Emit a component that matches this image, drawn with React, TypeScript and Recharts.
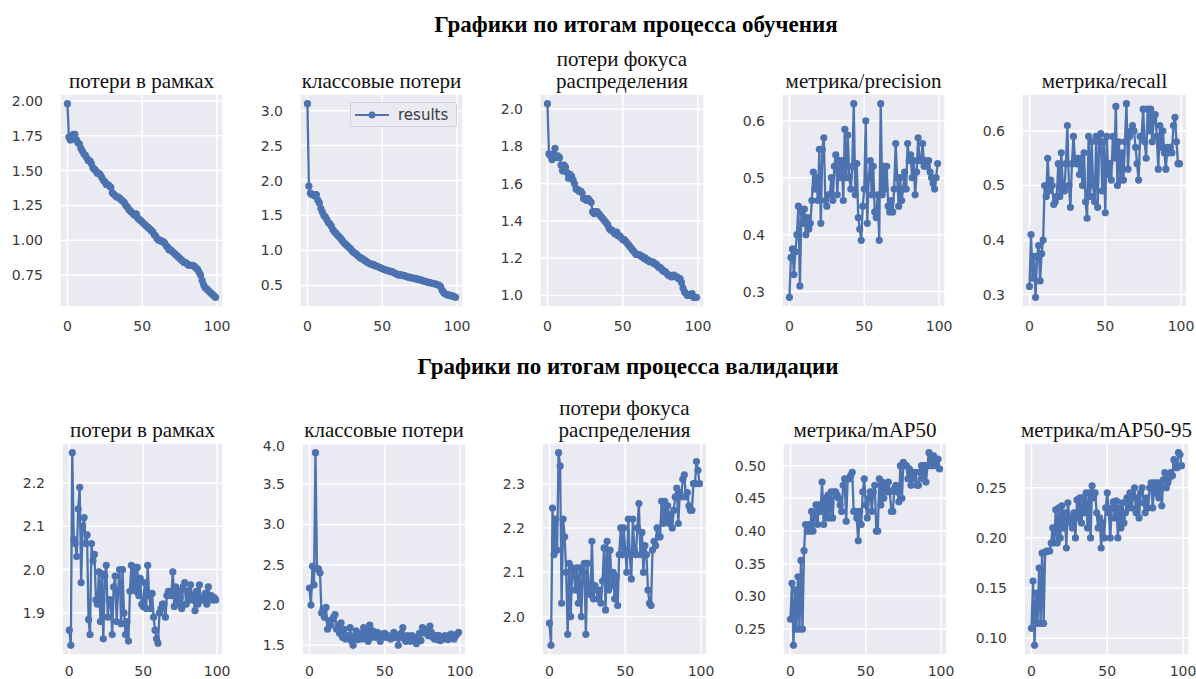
import React from 'react';
import { LineChart, Line, XAxis, YAxis, CartesianGrid, Legend } from 'recharts';

const epochs = Array.from({ length: 100 }, (_, i) => i);
const xTicks = [0, 50, 100];

const trainBoxLoss = [
  1.98, 1.74, 1.72, 1.73, 1.76, 1.76, 1.72, 1.70, 1.69, 1.66,
  1.64, 1.62, 1.61, 1.59, 1.57, 1.57, 1.55, 1.52, 1.51, 1.50,
  1.48, 1.48, 1.47, 1.45, 1.43, 1.42, 1.40, 1.40, 1.39, 1.38,
  1.34, 1.33, 1.32, 1.31, 1.31, 1.30, 1.29, 1.28, 1.27, 1.25,
  1.24, 1.22, 1.21, 1.20, 1.19, 1.18, 1.19, 1.16, 1.15, 1.14,
  1.13, 1.12, 1.11, 1.10, 1.09, 1.08, 1.07, 1.06, 1.04, 1.03,
  1.01, 1.00, 1.00, 0.99, 0.99, 0.98, 0.96, 0.95, 0.93, 0.93,
  0.92, 0.91, 0.90, 0.89, 0.88, 0.87, 0.86, 0.85, 0.84, 0.84,
  0.83, 0.82, 0.82, 0.82, 0.82, 0.81, 0.80, 0.79, 0.77, 0.75,
  0.71, 0.68, 0.66, 0.65, 0.64, 0.63, 0.62, 0.61, 0.60, 0.59,
];

const trainClsLoss = [
  3.10, 1.92, 1.82, 1.80, 1.80, 1.78, 1.80, 1.72, 1.68, 1.60,
  1.55, 1.50, 1.48, 1.44, 1.40, 1.38, 1.35, 1.30, 1.27, 1.25,
  1.22, 1.20, 1.18, 1.15, 1.12, 1.10, 1.08, 1.06, 1.04, 1.02,
  0.99, 0.97, 0.96, 0.94, 0.92, 0.90, 0.89, 0.88, 0.86, 0.85,
  0.83, 0.82, 0.81, 0.80, 0.80, 0.78, 0.78, 0.77, 0.76, 0.75,
  0.74, 0.73, 0.72, 0.72, 0.71, 0.70, 0.70, 0.69, 0.68, 0.67,
  0.66, 0.65, 0.65, 0.65, 0.64, 0.64, 0.63, 0.62, 0.62, 0.61,
  0.61, 0.60, 0.60, 0.59, 0.59, 0.58, 0.58, 0.57, 0.56, 0.56,
  0.55, 0.54, 0.54, 0.53, 0.53, 0.52, 0.52, 0.51, 0.50, 0.48,
  0.43, 0.40, 0.38, 0.37, 0.36, 0.36, 0.35, 0.35, 0.34, 0.33,
];

const trainDflLoss = [
  2.03, 1.76, 1.75, 1.73, 1.76, 1.79, 1.74, 1.75, 1.74, 1.70,
  1.67, 1.70, 1.69, 1.66, 1.63, 1.65, 1.64, 1.62, 1.60, 1.57,
  1.57, 1.56, 1.56, 1.55, 1.52, 1.52, 1.51, 1.52, 1.51, 1.50,
  1.45, 1.44, 1.45, 1.45, 1.44, 1.43, 1.42, 1.41, 1.40, 1.39,
  1.38, 1.36, 1.35, 1.35, 1.34, 1.33, 1.34, 1.32, 1.32, 1.31,
  1.30, 1.30, 1.29, 1.28, 1.27, 1.26, 1.25, 1.24, 1.23, 1.22,
  1.22, 1.22, 1.21, 1.21, 1.20, 1.20, 1.19, 1.19, 1.18, 1.18,
  1.18, 1.17, 1.17, 1.16, 1.15, 1.15, 1.14, 1.13, 1.13, 1.12,
  1.11, 1.11, 1.10, 1.10, 1.11, 1.10, 1.10, 1.09, 1.09, 1.07,
  1.04, 1.02, 1.01, 1.00, 1.00, 1.00, 1.01, 0.99, 0.99, 0.99,
];

const trainPrecision = [
  0.29, 0.36, 0.375, 0.33, 0.37, 0.40, 0.45, 0.31, 0.44, 0.42,
  0.445, 0.40, 0.43, 0.41, 0.42, 0.46, 0.51, 0.48, 0.50, 0.46,
  0.55, 0.42, 0.55, 0.57, 0.46, 0.45, 0.47, 0.47, 0.50, 0.46,
  0.52, 0.54, 0.47, 0.53, 0.50, 0.53, 0.46, 0.585, 0.50, 0.575,
  0.50, 0.48, 0.52, 0.63, 0.47, 0.525, 0.43, 0.41, 0.39, 0.45,
  0.48, 0.60, 0.42, 0.50, 0.53, 0.47, 0.52, 0.44, 0.43, 0.47,
  0.39, 0.63, 0.47, 0.52, 0.48, 0.52, 0.45, 0.44, 0.46, 0.44,
  0.48, 0.56, 0.50, 0.45, 0.50, 0.46, 0.48, 0.51, 0.48, 0.56,
  0.53, 0.54, 0.50, 0.53, 0.47, 0.51, 0.57, 0.53, 0.53, 0.56,
  0.52, 0.53, 0.52, 0.53, 0.51, 0.50, 0.49, 0.48, 0.50, 0.525,
];

const trainRecall = [
  0.315, 0.41, 0.33, 0.37, 0.295, 0.37, 0.39, 0.325, 0.375, 0.40,
  0.50, 0.48, 0.55, 0.49, 0.51, 0.50, 0.465, 0.47, 0.48, 0.54,
  0.48, 0.56, 0.50, 0.49, 0.54, 0.61, 0.50, 0.46, 0.54, 0.59,
  0.55, 0.54, 0.55, 0.52, 0.55, 0.50, 0.56, 0.47, 0.44, 0.59,
  0.48, 0.58, 0.50, 0.47, 0.59, 0.46, 0.58, 0.595, 0.49, 0.58,
  0.45, 0.59, 0.52, 0.54, 0.51, 0.59, 0.55, 0.645, 0.50, 0.58,
  0.51, 0.56, 0.51, 0.58, 0.65, 0.53, 0.59, 0.60, 0.61, 0.60,
  0.57, 0.54, 0.51, 0.59, 0.59, 0.64, 0.58, 0.55, 0.64, 0.60,
  0.64, 0.58, 0.62, 0.63, 0.59, 0.53, 0.61, 0.57, 0.60, 0.56,
  0.53, 0.57, 0.56, 0.57, 0.56, 0.61, 0.625, 0.58, 0.54, 0.54,
];

const valBoxLoss = [
  1.86, 1.825, 2.27, 2.07, 2.06, 2.03, 2.14, 2.19, 1.97, 2.10,
  2.12, 2.06, 2.08, 1.885, 1.85, 2.06, 2.02, 2.035, 1.93, 1.92,
  1.995, 1.88, 1.99, 1.84, 1.985, 2.01, 1.89, 1.93, 1.93, 1.85,
  1.96, 1.985, 1.88, 1.95, 2.00, 1.875, 2.00, 1.90, 1.85, 1.88,
  1.835, 1.95, 2.01, 1.96, 2.005, 1.95, 2.005, 1.94, 1.98, 1.92,
  1.915, 1.97, 1.91, 2.01, 1.94, 1.91, 1.945, 1.89, 1.86, 1.84,
  1.83, 1.90, 1.91, 1.92, 1.92, 1.89, 1.94, 1.95, 1.95, 1.94,
  1.995, 1.915, 1.96, 1.92, 1.95, 1.935, 1.91, 1.96, 1.97, 1.92,
  1.95, 1.93, 1.965, 1.94, 1.93, 1.905, 1.95, 1.92, 1.965, 1.93,
  1.935, 1.93, 1.945, 1.92, 1.96, 1.935, 1.94, 1.93, 1.935, 1.93,
];

const valClsLoss = [
  2.21, 2.00, 2.48, 2.25, 3.89, 2.45, 2.45, 2.40, 1.90, 1.95,
  1.85, 1.97, 1.70, 1.80, 1.75, 1.82, 1.85, 1.88, 1.70, 1.75,
  1.65, 1.78, 1.60, 1.70, 1.58, 1.62, 1.60, 1.72, 1.55, 1.50,
  1.62, 1.68, 1.57, 1.60, 1.65, 1.58, 1.72, 1.60, 1.68, 1.55,
  1.75, 1.60, 1.68, 1.62, 1.60, 1.66, 1.62, 1.55, 1.64, 1.62,
  1.65, 1.60, 1.62, 1.60, 1.58, 1.62, 1.66, 1.60, 1.63, 1.50,
  1.60, 1.65, 1.72, 1.58, 1.55, 1.62, 1.60, 1.55, 1.62, 1.58,
  1.60, 1.52, 1.60, 1.65, 1.56, 1.72, 1.70, 1.65, 1.68, 1.62,
  1.74, 1.66, 1.60, 1.58, 1.62, 1.57, 1.62, 1.56, 1.60, 1.58,
  1.62, 1.60, 1.57, 1.62, 1.64, 1.60, 1.58, 1.62, 1.64, 1.66,
];

const valDflLoss = [
  1.985, 1.935, 2.245, 2.14, 2.22, 2.15, 2.37, 2.34, 2.03, 2.22,
  2.18, 2.10, 1.96, 2.12, 2.00, 2.11, 2.10, 2.06, 2.11, 2.03,
  2.11, 2.00, 2.10, 2.12, 1.96, 2.12, 2.06, 2.05, 2.17, 2.04,
  2.07, 2.06, 2.04, 2.06, 2.03, 2.08, 2.155, 2.015, 2.17, 2.06,
  2.15, 2.07, 2.10, 2.04, 2.09, 2.025, 2.14, 2.20, 2.14, 2.20,
  2.15, 2.10, 2.22, 2.14, 2.085, 2.22, 2.15, 2.14, 2.20, 2.255,
  2.14, 2.19, 2.10, 2.16, 2.14, 2.06, 2.03, 2.025, 2.15, 2.17,
  2.16, 2.20, 2.18, 2.18, 2.26, 2.21, 2.26, 2.22, 2.25, 2.21,
  2.23, 2.20, 2.24, 2.27, 2.29, 2.21, 2.28, 2.27, 2.31, 2.32,
  2.27, 2.28, 2.25, 2.24, 2.24, 2.30, 2.30, 2.35, 2.33, 2.30,
];

const valMap50 = [
  0.265, 0.32, 0.225, 0.31, 0.25, 0.33, 0.25, 0.355, 0.25, 0.37,
  0.41, 0.40, 0.41, 0.40, 0.43, 0.40, 0.42, 0.44, 0.41, 0.44,
  0.43, 0.475, 0.41, 0.45, 0.42, 0.455, 0.42, 0.46, 0.42, 0.46,
  0.46, 0.455, 0.45, 0.44, 0.43, 0.47, 0.48, 0.415, 0.48, 0.48,
  0.485, 0.49, 0.43, 0.43, 0.42, 0.385, 0.43, 0.41, 0.46, 0.48,
  0.44, 0.42, 0.45, 0.46, 0.43, 0.46, 0.47, 0.40, 0.40, 0.48,
  0.44, 0.475, 0.45, 0.47, 0.46, 0.475, 0.46, 0.43, 0.43, 0.465,
  0.47, 0.46, 0.445, 0.50, 0.45, 0.505, 0.50, 0.50, 0.48, 0.495,
  0.47, 0.49, 0.48, 0.49, 0.47, 0.47, 0.49, 0.50, 0.48, 0.50,
  0.475, 0.50, 0.52, 0.51, 0.50, 0.515, 0.51, 0.50, 0.51, 0.495,
];

const valMap5095 = [
  0.11, 0.157, 0.093, 0.145, 0.115, 0.17, 0.115, 0.185, 0.115, 0.186,
  0.187, 0.187, 0.187, 0.195, 0.21, 0.195, 0.228, 0.195, 0.23, 0.20,
  0.232, 0.21, 0.225, 0.19, 0.235, 0.22, 0.215, 0.21, 0.225, 0.20,
  0.238, 0.22, 0.24, 0.215, 0.24, 0.225, 0.245, 0.21, 0.245, 0.20,
  0.252, 0.24, 0.245, 0.225, 0.21, 0.22, 0.19, 0.215, 0.20, 0.23,
  0.245, 0.225, 0.20, 0.23, 0.236, 0.22, 0.237, 0.20, 0.23, 0.21,
  0.235, 0.215, 0.225, 0.24, 0.23, 0.245, 0.23, 0.24, 0.25, 0.225,
  0.24, 0.22, 0.245, 0.25, 0.235, 0.225, 0.24, 0.23, 0.25, 0.255,
  0.23, 0.255, 0.245, 0.255, 0.24, 0.255, 0.232, 0.258, 0.265, 0.25,
  0.255, 0.26, 0.265, 0.262, 0.278, 0.275, 0.27, 0.285, 0.283, 0.272,
];

const ticksTrainBox = [0.75, 1.0, 1.25, 1.5, 1.75, 2.0];
const ticksTrainCls = [0.5, 1.0, 1.5, 2.0, 2.5, 3.0];
const ticksTrainDfl = [1.0, 1.2, 1.4, 1.6, 1.8, 2.0];
const ticksPrecision = [0.3, 0.4, 0.5, 0.6];
const ticksRecall = [0.3, 0.4, 0.5, 0.6];
const ticksValBox = [1.9, 2.0, 2.1, 2.2];
const ticksValCls = [1.5, 2.0, 2.5, 3.0, 3.5, 4.0];
const ticksValDfl = [2.0, 2.1, 2.2, 2.3];
const ticksMap50 = [0.25, 0.3, 0.35, 0.4, 0.45, 0.5];
const ticksMap5095 = [0.1, 0.15, 0.2, 0.25];

const trainTitle = 'Графики по итогам процесса обучения';
const valTitle = 'Графики по итогам процесса валидации';
const legendLabel = 'results';

const BLUE = '#4C72B0';
const BG = '#EAEAF2';
const TICK_COLOR = '#3a3a3a';
const PAD_L = 55;
const PAD_T = 5;
const PAD_R = 24;
const PAD_B = 35;

type Panel = {
  title: string[];
  values: number[];
  ticks: number[];
  digits: number;
  left: number;
  top: number;
  w: number;
  h: number;
  xMargin: number;
  legend?: boolean;
};

const ROW1_TOP = 94;
const ROW1_H = 213;
const ROW2_TOP = 443;
const ROW2_H = 212;
const ROW1_XM = 8;
const ROW2_XM = 5;

const panels: Panel[] = [
  { title: ['потери в рамках'], values: trainBoxLoss, ticks: ticksTrainBox, digits: 2, left: 60, top: ROW1_TOP, w: 163, h: ROW1_H, xMargin: ROW1_XM },
  { title: ['классовые потери'], values: trainClsLoss, ticks: ticksTrainCls, digits: 1, left: 300, top: ROW1_TOP, w: 163, h: ROW1_H, xMargin: ROW1_XM, legend: true },
  { title: ['потери фокуса', 'распределения'], values: trainDflLoss, ticks: ticksTrainDfl, digits: 1, left: 540, top: ROW1_TOP, w: 164, h: ROW1_H, xMargin: ROW1_XM },
  { title: ['метрика/precision'], values: trainPrecision, ticks: ticksPrecision, digits: 1, left: 782, top: ROW1_TOP, w: 163, h: ROW1_H, xMargin: ROW1_XM },
  { title: ['метрика/recall'], values: trainRecall, ticks: ticksRecall, digits: 1, left: 1022, top: ROW1_TOP, w: 165, h: ROW1_H, xMargin: ROW1_XM },
  { title: ['потери в рамках'], values: valBoxLoss, ticks: ticksValBox, digits: 1, left: 62, top: ROW2_TOP, w: 161, h: ROW2_H, xMargin: ROW2_XM },
  { title: ['классовые потери'], values: valClsLoss, ticks: ticksValCls, digits: 1, left: 302, top: ROW2_TOP, w: 164, h: ROW2_H, xMargin: ROW2_XM },
  { title: ['потери фокуса', 'распределения'], values: valDflLoss, ticks: ticksValDfl, digits: 1, left: 542, top: ROW2_TOP, w: 165, h: ROW2_H, xMargin: ROW2_XM },
  { title: ['метрика/mAP50'], values: valMap50, ticks: ticksMap50, digits: 2, left: 783, top: ROW2_TOP, w: 164, h: ROW2_H, xMargin: ROW2_XM },
  { title: ['метрика/mAP50-95'], values: valMap5095, ticks: ticksMap5095, digits: 2, left: 1024, top: ROW2_TOP, w: 165, h: ROW2_H, xMargin: ROW2_XM },
];

function autoDomain(vals: number[]): [number, number] {
  const mn = Math.min(...vals);
  const mx = Math.max(...vals);
  const m = (mx - mn) * 0.05;
  return [mn - m, mx + m];
}

const LegendBox = () => (
  <div
    style={{
      width: 107,
      height: 25,
      border: '1px solid #d0d0d8',
      borderRadius: 3,
      background: BG,
      boxSizing: 'border-box',
      display: 'flex',
      alignItems: 'center',
      fontFamily: '"DejaVu Sans", sans-serif',
      fontSize: 15,
      color: TICK_COLOR,
    }}
  >
    <svg width={46} height={20} style={{ display: 'block' }}>
      <line x1={4} y1={10} x2={38} y2={10} stroke={BLUE} strokeWidth={2.2} />
      <circle cx={21} cy={10} r={3.5} fill={BLUE} />
    </svg>
    <span style={{ marginLeft: 1 }}>{legendLabel}</span>
  </div>
);

function PanelChart({ p }: { p: Panel }) {
  const data = epochs.map((e, i) => ({ epoch: e, value: p.values[i] }));
  const width = p.w + PAD_L + PAD_R;
  const height = p.h + PAD_T + PAD_B;
  const titleBottom = p.top - 2;
  const LH = 22;
  return (
    <>
      <div
        style={{
          position: 'absolute',
          left: p.left - 50,
          width: p.w + 100,
          top: titleBottom - p.title.length * LH,
          lineHeight: `${LH}px`,
          fontFamily: '"Liberation Serif", "Times New Roman", serif',
          fontSize: 21,
          color: '#111',
          textAlign: 'center',
          whiteSpace: 'nowrap',
        }}
      >
        {p.title.map((t, i) => (
          <div key={i}>{t}</div>
        ))}
      </div>
      <div style={{ position: 'absolute', left: p.left - PAD_L, top: p.top - PAD_T }}>
        <LineChart
          width={width}
          height={height}
          data={data}
          margin={{ top: PAD_T, right: PAD_R, left: 0, bottom: 0 }}
        >
          <CartesianGrid fill={BG} stroke="#ffffff" strokeWidth={1.5} />
          <XAxis
            dataKey="epoch"
            type="number"
            domain={[-4.95, 103.95]}
            ticks={xTicks}
            axisLine={false}
            tickLine={false}
            height={PAD_B}
            tickMargin={p.xMargin}
            allowDataOverflow
            tick={{ fill: TICK_COLOR, fontSize: 14, fontFamily: '"DejaVu Sans", sans-serif' }}
          />
          <YAxis
            type="number"
            domain={autoDomain(p.values)}
            ticks={p.ticks}
            axisLine={false}
            tickLine={false}
            width={PAD_L}
            tickMargin={11}
            allowDataOverflow
            tickFormatter={(v: number) => v.toFixed(p.digits)}
            tick={{ fill: TICK_COLOR, fontSize: 14, fontFamily: '"DejaVu Sans", sans-serif' }}
          />
          {p.legend && (
            <Legend
              layout="horizontal"
              verticalAlign="middle"
              align="center"
              content={() => <LegendBox />}
              wrapperStyle={{ position: 'absolute', left: PAD_L + 50, top: 13, width: 107, height: 25 }}
            />
          )}
          <Line
            type="linear"
            dataKey="value"
            name={legendLabel}
            stroke={BLUE}
            strokeWidth={2.3}
            dot={{ r: 3.6, fill: BLUE, stroke: BLUE, strokeWidth: 0 }}
            activeDot={false}
            isAnimationActive={false}
          />
        </LineChart>
      </div>
    </>
  );
}

export default function App() {
  const titleStyle: React.CSSProperties = {
    position: 'absolute',
    left: 336,
    width: 600,
    textAlign: 'center',
    fontFamily: '"Liberation Serif", "Times New Roman", serif',
    fontWeight: 'bold',
    fontSize: 23,
    lineHeight: '26px',
    color: '#000',
    whiteSpace: 'nowrap',
  };
  return (
    <div
      style={{
        position: 'absolute',
        left: 0,
        top: 0,
        width: 1196,
        height: 679,
        background: '#ffffff',
        overflow: 'hidden',
      }}
    >
      <div style={{ ...titleStyle, top: 12 }}>{trainTitle}</div>
      <div style={{ ...titleStyle, top: 354, left: 328 }}>{valTitle}</div>
      {panels.map((p, i) => (
        <PanelChart key={i} p={p} />
      ))}
    </div>
  );
}
